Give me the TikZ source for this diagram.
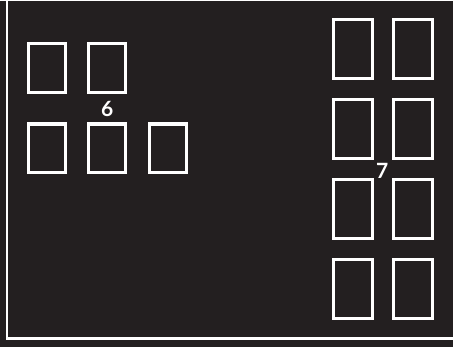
\documentclass[tikz,border=0pt]{standalone}
\usepackage{fontspec}
\setmainfont{Lato}
\definecolor{bgdark}{HTML}{231F20}

\begin{document}
\begin{tikzpicture}[
    x=0.025cm, y=-0.025cm,
    % Define seat style
    seatsmall/.style={rectangle, draw=white, line width=2.2pt, inner sep=0pt, minimum width=0.925cm, minimum height=1.225cm},
    seatlarge/.style={rectangle, draw=white, line width=2.2pt, inner sep=0pt, minimum width=0.975cm, minimum height=1.475cm},
    % Define label style
    grouplabel/.style={text=white, font=\fontsize{15}{17}\selectfont\bfseries, inner sep=0pt},
    % Define wall style
    wall/.style={draw=white, line width=2pt}
]

    % Background
    \fill[bgdark] (0,0) rectangle (454,347);

    % Walls
    \coordinate (walltop) at (7,0);
    \coordinate (wallcorner) at (7,338);
    \coordinate (wallend) at (454,338);
    \draw[wall] (walltop) -- (wallcorner) -- (wallend);

    % Group 6
    \node[seatsmall] (s6a) at (47,67) {};
    \node[seatsmall] (s6b) at (107.5,67) {};
    \node[seatsmall] (s6c) at (47,147.5) {};
    \node[seatsmall] (s6d) at (107.5,147.5) {};
    \node[seatsmall] (s6e) at (168.5,147.5) {};
    \node[grouplabel] (lab6) at (107.5,108) {6};

    % Group 7
    \node[seatlarge] (s7a) at (354,48) {};
    \node[seatlarge] (s7b) at (414,48) {};
    \node[seatlarge] (s7c) at (354,128) {};
    \node[seatlarge] (s7d) at (414,128) {};
    \node[seatlarge] (s7e) at (354,208.5) {};
    \node[seatlarge] (s7f) at (414,208.5) {};
    \node[seatlarge] (s7g) at (354,288.5) {};
    \node[seatlarge] (s7h) at (414,288.5) {};
    \node[grouplabel] (lab7) at (383.5,170) {7};

\end{tikzpicture}
\end{document}
